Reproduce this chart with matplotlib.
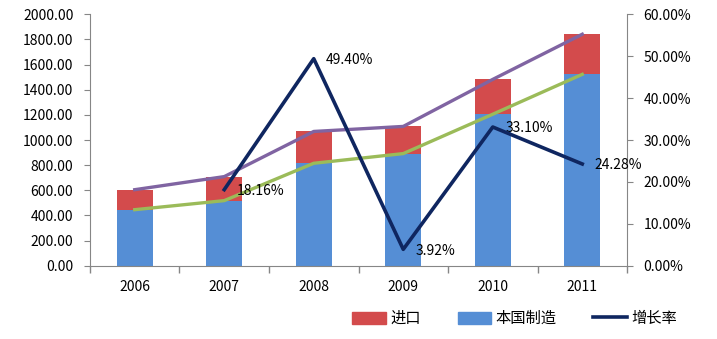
import matplotlib
matplotlib.use("Agg")
import matplotlib.pyplot as plt
from matplotlib.patches import Patch
from matplotlib.lines import Line2D
from matplotlib.ticker import FuncFormatter, MultipleLocator
import numpy as np

plt.rcParams['font.family'] = ['Noto Sans CJK SC', 'DejaVu Sans']

# data
years = ['2006', '2007', '2008', '2009', '2010', '2011']
domestic = [446, 518, 815, 892, 1205, 1522]   # 本国制造
imports = [159, 191, 253, 216, 277, 319]      # 进口
growth = [None, 18.16, 49.40, 3.92, 33.10, 24.28]  # 增长率 (%)

total = [d + i for d, i in zip(domestic, imports)]

c_blue = '#558ED5'
c_red = '#D34B4C'
c_purple = '#8064A2'
c_green = '#9BBB59'
c_navy = '#0F2660'
c_axis = '#868686'
fs = 10

fig = plt.figure(figsize=(7.17, 3.39), dpi=100)
ax = fig.add_axes([0.1255, 0.216, 0.749, 0.742])
x = np.arange(len(years))

ax.bar(x, domestic, width=0.4, color=c_blue, zorder=2)
ax.bar(x, imports, width=0.4, bottom=domestic, color=c_red, zorder=2)
ax.plot(x, total, color=c_purple, lw=2.4, zorder=3)
ax.plot(x, domestic, color=c_green, lw=2.4, zorder=3)

ax.set_xlim(-0.5, len(years) - 0.5)
ax.set_ylim(0, 2000)
ax.yaxis.set_major_locator(MultipleLocator(200))
ax.yaxis.set_major_formatter(FuncFormatter(lambda v, p: '%.2f' % v))
ax.set_xticks(x)
ax.set_xticklabels(years)
ax.set_xticks(np.arange(-0.5, len(years)), minor=True)
ax.tick_params(axis='x', which='major', length=0, pad=10, labelsize=fs)
ax.tick_params(axis='x', which='minor', length=5, color=c_axis, width=1)
ax.tick_params(axis='y', length=4, color=c_axis, pad=8, labelsize=fs)
for s in ['top', 'right']:
    ax.spines[s].set_visible(False)
for s in ['left', 'bottom']:
    ax.spines[s].set_color(c_axis)

ax2 = ax.twinx()
gx = [i for i, g in enumerate(growth) if g is not None]
gy = [g for g in growth if g is not None]
ax2.plot(gx, gy, color=c_navy, lw=2.6, zorder=4)
for xi, yi in zip(gx, gy):
    ax2.annotate('%.2f%%' % yi, (xi, yi), xytext=(9, -1), textcoords='offset points',
                 va='center', ha='left', fontsize=fs)
ax2.set_ylim(0, 60)
ax2.yaxis.set_major_locator(MultipleLocator(10))
ax2.yaxis.set_major_formatter(FuncFormatter(lambda v, p: '%.2f%%' % v))
ax2.tick_params(axis='y', length=4, color=c_axis, pad=8, labelsize=fs)
for s in ['top', 'left', 'bottom']:
    ax2.spines[s].set_visible(False)
ax2.spines['right'].set_color(c_axis)

handles = [Patch(color=c_red), Patch(color=c_blue), Line2D([], [], color=c_navy, lw=2.6)]
fig.legend(handles, ['进口', '本国制造', '增长率'], loc='center', bbox_to_anchor=(0.718, 0.06),
           ncol=3, frameon=False, fontsize=11, handlelength=2.2, handleheight=0.9,
           handletextpad=0.3, columnspacing=2.4)

fig.savefig('out.png', dpi=100)
